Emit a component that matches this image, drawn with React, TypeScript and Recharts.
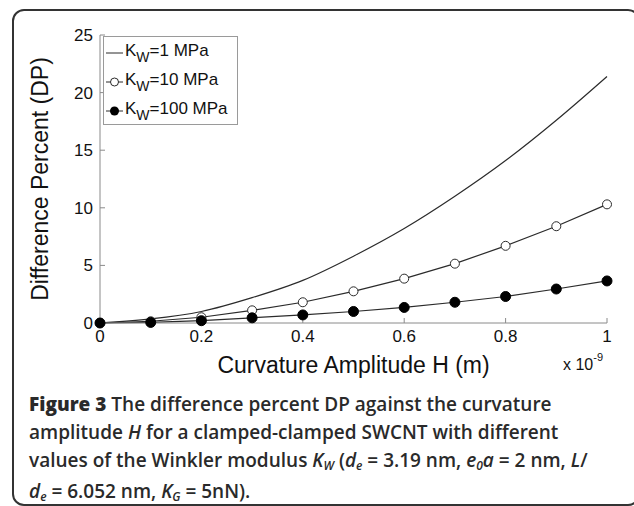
import React from 'react';
import { LineChart, Line, XAxis, YAxis } from 'recharts';

const H = [0, 0.1, 0.2, 0.3, 0.4, 0.5, 0.6, 0.7, 0.8, 0.9, 1.0];
const dpKw1 = [0, 0.35, 1.0, 2.2, 3.7, 5.8, 8.2, 11.0, 14.1, 17.6, 21.4];
const dpKw10 = [0, 0.15, 0.5, 1.1, 1.8, 2.75, 3.85, 5.15, 6.7, 8.4, 10.3];
const dpKw100 = [0, 0.05, 0.2, 0.45, 0.7, 1.0, 1.35, 1.8, 2.3, 2.95, 3.65];
const xTicks = [0, 0.2, 0.4, 0.6, 0.8, 1];
const yTicks = [0, 5, 10, 15, 20, 25];
const seriesLabels = ['1 MPa', '10 MPa', '100 MPa'];

const data = H.map((h, i) => ({ h, kw1: dpKw1[i], kw10: dpKw10[i], kw100: dpKw100[i] }));

const AX = '#8a8a8a';
const INK = '#2b2b2b';
const SANS = '"Liberation Sans", Arial, sans-serif';

const subStyle = { fontSize: 12, verticalAlign: 'baseline', position: 'relative' as const, top: 3 };

function LegendBox() {
  const rows = [
    { label: seriesLabels[0], marker: 'none' },
    { label: seriesLabels[1], marker: 'open' },
    { label: seriesLabels[2], marker: 'filled' },
  ];
  return (
    <div style={{ border: '1px solid #9a9a9a', background: '#fff', width: 135, height: 89, boxSizing: 'border-box', paddingTop: 1 }}>
      {rows.map((r, i) => (
        <div key={i} style={{ display: 'flex', alignItems: 'center', height: 29, fontFamily: SANS, fontSize: 17, color: '#111' }}>
          <svg width={21} height={14} style={{ flexShrink: 0 }}>
            <line x1={2} y1={7} x2={19} y2={7} stroke={INK} strokeWidth={1} />
            {r.marker === 'open' && <circle cx={10.5} cy={7} r={4} fill="#fff" stroke={INK} strokeWidth={1} />}
            {r.marker === 'filled' && <circle cx={10.5} cy={7} r={4.5} fill="#000" />}
          </svg>
          <span style={{ marginTop: -4 }}>
            K<sub style={{ fontSize: 14, verticalAlign: 'baseline', position: 'relative', top: 6 }}>W</sub>={r.label}
          </span>
        </div>
      ))}
    </div>
  );
}

export default function App() {
  return (
    <div style={{ position: 'absolute', left: 0, top: 0, width: 634, height: 506, background: '#fff', overflow: 'hidden' }}>
      <div style={{ position: 'absolute', left: 12, top: 9, width: 628, height: 497, border: '2px solid #333', borderRadius: 12, boxSizing: 'border-box' }} />
      <div style={{ position: 'absolute', left: 0, top: 0, fontFamily: SANS }}>
        <LineChart width={634} height={400} data={data} margin={{ top: 35, right: 27, left: 40, bottom: 47 }} style={{ fontFamily: SANS }}>
          <XAxis
            dataKey="h"
            type="number"
            domain={[0, 1]}
            ticks={xTicks}
            tickFormatter={(v: number) => String(v)}
            height={30}
            tickSize={-5}
            tickMargin={12}
            axisLine={{ stroke: AX }}
            tickLine={{ stroke: AX }}
            tick={{ fill: '#111', fontSize: 17, fontFamily: SANS }}
            label={{ value: 'Curvature Amplitude H (m)', position: 'bottom', offset: 4, style: { fill: '#111', fontSize: 23, fontFamily: SANS } }}
          />
          <YAxis
            type="number"
            domain={[0, 25]}
            ticks={yTicks}
            width={60}
            tickSize={-5}
            tickMargin={12}
            axisLine={{ stroke: AX }}
            tickLine={{ stroke: AX }}
            tick={{ fill: '#111', fontSize: 17, fontFamily: SANS }}
            label={{ value: 'Difference Percent (DP)', angle: -90, position: 'insideLeft', offset: 0, style: { textAnchor: 'middle', fill: '#111', fontSize: 23, fontFamily: SANS } }}
          />
          <Line type="monotone" dataKey="kw1" stroke={INK} strokeWidth={1.2} dot={false} isAnimationActive={false} />
          <Line type="linear" dataKey="kw10" stroke={INK} strokeWidth={1.2} dot={{ r: 4.5, fill: '#fff', stroke: INK, strokeWidth: 1 }} isAnimationActive={false} />
          <Line type="linear" dataKey="kw100" stroke={INK} strokeWidth={1.2} dot={{ r: 5, fill: '#000', stroke: '#000', strokeWidth: 1 }} isAnimationActive={false} />
        </LineChart>
      </div>
      <div style={{ position: 'absolute', left: 103, top: 36 }}>
        <LegendBox />
      </div>
      <div style={{ position: 'absolute', left: 563, top: 356, fontFamily: SANS, fontSize: 16, color: '#111' }}>
        x 10<sup style={{ fontSize: 11, verticalAlign: 'baseline', position: 'relative', top: -9 }}>-9</sup>
      </div>
      <div style={{ position: 'absolute', left: 29, top: 390, width: 605, fontFamily: '"Open Sans", sans-serif', fontSize: 19, lineHeight: '28px', color: '#2a2a2a', fontWeight: 600, whiteSpace: 'nowrap' }}>
        <div><span style={{ fontWeight: 800 }}>Figure 3</span> The difference percent DP against the curvature</div>
        <div>amplitude <i>H</i> for a clamped-clamped SWCNT with different</div>
        <div>
          values of the Winkler modulus <i>K<sub style={subStyle}>W</sub></i> (<i>d<sub style={subStyle}>e</sub></i> = 3.19 nm, <i>e<sub style={subStyle}>0</sub>a</i> = 2 nm, <i>L</i>/
        </div>
        <div>
          <i>d<sub style={subStyle}>e</sub></i> = 6.052 nm, <i>K<sub style={subStyle}>G</sub></i> = 5nN).
        </div>
      </div>
    </div>
  );
}
